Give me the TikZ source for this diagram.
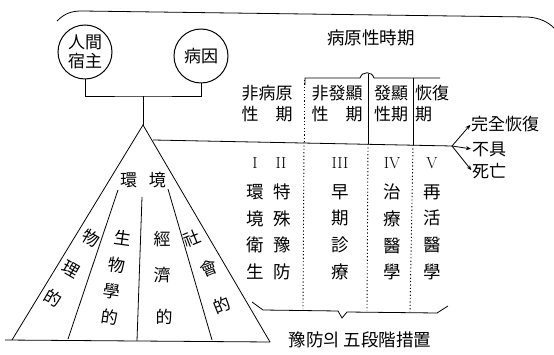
\documentclass[tikz,border=0pt]{standalone}
\usepackage{fontspec}
\newfontfamily\kr{Noto Sans CJK KR}
\usetikzlibrary{arrows.meta}
\begin{document}
\begin{tikzpicture}[x=1pt,y=-1pt,
  ln/.style={line width=0.8pt},
  dv/.style={line width=0.9pt,dash pattern=on 1.2pt off 2.2pt},
  circ/.style={draw,circle,line width=1pt,minimum size=54pt,inner sep=0pt,align=center,font=\kr\fontsize{17}{19}\selectfont},
  cjk/.style={font=\kr\fontsize{17}{20}\selectfont,inner sep=0pt},
  col/.style={font=\kr\fontsize{17.5}{26.7}\selectfont,align=center,inner sep=0pt},
  hdr/.style={font=\kr\fontsize{17}{20}\selectfont,align=center,inner sep=0pt},
  num/.style={font=\fontsize{16}{18}\selectfont,inner sep=0pt},
  arr/.style={ln,-{Stealth[length=5pt,width=4pt]}}]
\useasboundingbox (0,0) rectangle (554,355);
% top curve
\coordinate (tc1) at (57,21);
\coordinate (tc2) at (82,11);
\coordinate (tc3) at (528,17);
\coordinate (tc4) at (554,28);
\draw[ln] (tc1) .. controls (65,13) and (72,11) .. (tc2) -- (tc3) .. controls (540,18) and (548,22) .. (tc4);
% circles
\node[circ] (host) at (85,52) {人間\\宿主};
\node[circ] (agent) at (201,56) {病因};
\coordinate (join) at (143,96);
\coordinate (apex) at (143,125);
\draw[ln] (host.south) |- (join) -| (agent.south);
\draw[ln] (join) -- (apex);
% triangle
\coordinate (bl) at (12,340);
\coordinate (bl0) at (5,340);
\coordinate (br) at (270,342);
\draw[ln] (bl) -- (apex) -- (br);
\draw[ln] (bl0) -- (br);
\coordinate (l1a) at (118,190); \coordinate (l1b) at (68,339);
\coordinate (l2a) at (142,197); \coordinate (l2b) at (137,341);
\coordinate (l3a) at (168,189); \coordinate (l3b) at (212,340);
\draw[ln] (l1a) -- (l1b);
\draw[ln] (l2a) -- (l2b);
\draw[ln] (l3a) -- (l3b);
\node[cjk] (env) at (143,180) {環\hspace{12pt}境};
\node[cjk,rotate=-30] (p1) at (91,238) {物};
\node[cjk,rotate=-30] (p2) at (71,269) {理};
\node[cjk,rotate=-30] (p3) at (53,298) {的};
\node[cjk,rotate=-8] (b1) at (123,238) {生};
\node[cjk,rotate=-8] (b2) at (117,265) {物};
\node[cjk,rotate=-8] (b3) at (112,291) {學};
\node[cjk,rotate=-8] (b4) at (110,317) {的};
\node[cjk] (e1) at (162,239) {經};
\node[cjk] (e2) at (162,275) {濟};
\node[cjk] (e3) at (164,317) {的};
\node[cjk,rotate=22] (s1) at (192,238) {社};
\node[cjk,rotate=22] (s2) at (209,268) {會};
\node[cjk,rotate=22] (s3) at (222,305) {的};
% main horizontal line
\coordinate (ml) at (153,140);
\coordinate (split) at (452,146);
\draw[ln] (ml) -- (split);
% outcomes
\node[cjk,anchor=west] (full) at (471,124) {完全恢復};
\node[cjk,anchor=west] (disab) at (472,149) {不具};
\node[cjk,anchor=west] (death) at (472,171) {死亡};
\draw[arr,shorten >=1pt] (split) -- (full.west);
\draw[arr,shorten >=1pt] (split) -- (disab.west);
\draw[arr,shorten >=1pt] (split) -- (death.west);
% header
\node[hdr,font=\kr\fontsize{17.5}{20}\selectfont] (path) at (371,38) {病原性時期};
\coordinate (bk0) at (305,85);
\coordinate (bk1) at (305,78);
\coordinate (bk2) at (360,78);
\coordinate (bk3) at (374,78);
\coordinate (bk4) at (440,78);
\draw[ln] (bk0) -- (bk1) -- (bk2) .. controls (362,71) and (372,71) .. (bk3) -- (bk4);
\coordinate (d1t) at (304,80); \coordinate (d1m) at (304,142); \coordinate (d1b) at (303,309);
\coordinate (d2t) at (368,74); \coordinate (d2m) at (368,144); \coordinate (d2b) at (367,311);
\coordinate (d3t) at (413,78); \coordinate (d3m) at (413,145); \coordinate (d3b) at (410,312);
\draw[dv] (d1t) -- (d1m);
\draw[ln] (d2t) -- (d2m);
\draw[ln] (d3t) -- (d3m);
\draw[dv] (d1m) -- (d1b);
\draw[dv] (d2m) -- (d2b);
\draw[dv] (d3m) -- (d3b);
\node[hdr] (h1) at (267,104) {非病原\\[1pt]性　期};
\node[hdr] (h2) at (337,104) {非發顯\\[1pt]性　期};
\node[hdr] (h3) at (391,104) {發顯\\[1pt]性期};
\node[hdr,anchor=west,align=left] (h4) at (415,104) {恢復\\[1pt]期};
% stage columns
\node[num] (n1) at (255,163) {I};
\node[num] (n2) at (281,163) {II};
\node[num] (n3) at (340,163) {III};
\node[num] (n4) at (392,163) {IV};
\node[num] (n5) at (432,163) {V};
\node[col] (c1) at (255,232) {環\\境\\衛\\生};
\node[col] (c2) at (282,232) {特\\殊\\豫\\防};
\node[col] (c3) at (340,232) {早\\期\\診\\療};
\node[col] (c4) at (392,232) {治\\療\\醫\\學};
\node[col] (c5) at (432,232) {再\\活\\醫\\學};
% bottom bracket
\coordinate (bb0) at (252,302);
\coordinate (bb1) at (263,310);
\coordinate (bb2) at (338,311);
\coordinate (bb3) at (342,318);
\coordinate (bb4) at (347,312);
\coordinate (bb5) at (437,313);
\coordinate (bb6) at (448,306);
\draw[ln] (bb0) -- (bb1) -- (bb2) -- (bb3) -- (bb4) -- (bb5) -- (bb6);
\node[cjk,font=\kr\fontsize{17.5}{20}\selectfont] (five) at (360,340) {豫防의 五段階措置};
\end{tikzpicture}
\end{document}
